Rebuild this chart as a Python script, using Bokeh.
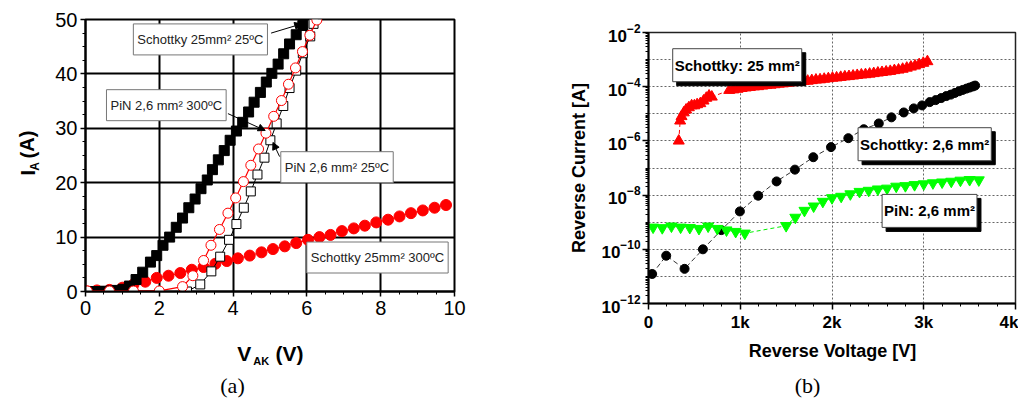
from bokeh.plotting import figure
from bokeh.models import Range1d, SingleIntervalTicker, FixedTicker, Label, Arrow, NormalHead
from bokeh.layouts import row, column
from bokeh.embed import file_html
from bokeh.resources import INLINE

# ---------------- (a) forward characteristics ----------------
sch25_25c_v = [0.2, 0.37, 0.53, 0.7, 0.86, 1.02, 1.19, 1.37, 1.55, 1.76, 1.93, 2.1, 2.28, 2.46,
               2.63, 2.8, 2.97, 3.13, 3.3, 3.44, 3.6, 3.76, 3.92, 4.09, 4.26, 4.42, 4.57, 4.74,
               4.9, 5.05, 5.22, 5.37, 5.53, 5.71, 5.89]
sch25_25c_i = [0.0, 0.0, 0.05, 0.1, 0.2, 0.4, 1.0, 2.2, 3.55, 5.4, 6.6, 8.5, 10.0, 11.8,
               13.5, 15.4, 17.0, 18.9, 20.5, 22.4, 24.2, 25.9, 27.8, 29.5, 31.1, 33.0, 34.8, 36.6,
               38.5, 40.1, 41.8, 43.7, 45.5, 47.2, 48.9]

sch25_300c_v = [0.05, 0.31, 0.65, 1.0, 1.3, 1.62, 1.93, 2.25, 2.57, 2.88, 3.2, 3.52, 3.83, 4.13,
                4.45, 4.77, 5.08, 5.4, 5.71, 6.03, 6.34, 6.64, 6.95, 7.27, 7.57, 7.88, 8.2, 8.51,
                8.82, 9.14, 9.46, 9.77]
sch25_300c_i = [0.0, 0.2, 0.3, 0.7, 1.3, 1.8, 2.5, 2.9, 3.4, 4.0, 4.5, 5.1, 5.6, 6.1,
                6.6, 7.2, 7.8, 8.3, 8.9, 9.5, 10.0, 10.4, 11.1, 11.6, 12.1, 12.7, 13.2, 13.8,
                14.4, 14.9, 15.4, 15.9]

pin_300c_v = [0.05, 0.65, 1.3, 2.0, 2.63, 2.91, 3.2, 3.4, 3.63, 3.86, 4.07, 4.28, 4.48, 4.69,
              4.89, 5.1, 5.31, 5.5, 5.69, 5.88, 6.08, 6.27]
pin_300c_i = [0.1, 0.1, 0.1, 0.1, 0.9, 2.9, 5.7, 8.5, 11.4, 14.4, 17.2, 20.2, 23.2, 26.2,
              29.1, 32.2, 35.1, 38.1, 41.1, 44.1, 47.1, 49.9]

pin_25c_v = [2.75, 3.11, 3.41, 3.65, 3.89, 4.09, 4.29, 4.48, 4.66, 4.85, 5.01, 5.18, 5.36, 5.53,
             5.71, 5.89, 6.09, 6.18]
pin_25c_i = [0.0, 1.3, 3.7, 6.4, 9.5, 12.4, 15.4, 18.4, 21.5, 24.6, 27.8, 30.9, 34.1, 37.4,
             40.6, 43.8, 46.9, 49.2]

labels_a = ["Schottky 25mm\u00b2 25\u00baC", "PiN 2,6 mm\u00b2 300\u00baC",
            "PiN 2,6 mm\u00b2 25\u00baC", "Schottky 25mm\u00b2 300\u00baC"]

# ---------------- (b) reverse characteristics ----------------
sch26_v = [40, 193, 393, 593, 793, 996, 1196, 1396, 1596, 1796, 1989, 2178, 2346, 2510, 2648,
           2782, 2891, 2982, 3065, 3130, 3190, 3245, 3295, 3340, 3385, 3425, 3465, 3500, 3535, 3560]
sch26_i = [1.23e-11, 5.8e-11, 1.9e-11, 1.0e-10, 5.1e-10, 2.5e-9, 9.5e-9, 3.2e-8, 8.7e-8, 2.5e-7,
           5.9e-7, 1.26e-6, 2.7e-6, 4.4e-6, 7.4e-6, 1.12e-5, 1.58e-5, 2.04e-5, 2.7e-5, 3.2e-5,
           3.8e-5, 4.5e-5, 5.1e-5, 5.9e-5, 6.8e-5, 7.6e-5, 8.5e-5, 9.3e-5, 1.02e-4, 1.1e-4]

sch25r_v = [330, 345, 360, 385, 410, 440, 470, 500, 530, 565, 600, 630, 660, 690,
            880, 925, 970, 1015, 1060, 1105, 1150, 1195, 1240, 1285, 1330, 1375, 1420, 1465,
            1510, 1555, 1600, 1645, 1690, 1735, 1780, 1825, 1870, 1915, 1960, 2005, 2050, 2095,
            2140, 2185, 2230, 2275, 2320, 2365, 2410, 2455, 2500, 2545, 2590, 2635, 2680, 2725,
            2770, 2815, 2860, 2905, 2950, 2995, 3040]
sch25r_i = [1.0e-6, 5.5e-6, 8.0e-6, 1.1e-5, 1.4e-5, 1.7e-5, 2.0e-5, 2.0e-5, 2.2e-5, 2.4e-5,
            3.0e-5, 3.8e-5, 4.6e-5, 4.2e-5,
            7.41e-5, 7.76e-5, 8.13e-5, 8.71e-5, 9.12e-5, 9.55e-5, 1.0e-4, 1.02e-4, 1.07e-4, 1.12e-4,
            1.15e-4, 1.20e-4, 1.26e-4, 1.29e-4, 1.35e-4, 1.41e-4, 1.45e-4, 1.51e-4, 1.58e-4, 1.62e-4,
            1.70e-4, 1.78e-4, 1.82e-4, 1.91e-4, 2.0e-4, 2.09e-4, 2.14e-4, 2.24e-4, 2.34e-4, 2.40e-4,
            2.51e-4, 2.63e-4, 2.75e-4, 2.82e-4, 2.95e-4, 3.09e-4, 3.24e-4, 3.39e-4, 3.55e-4, 3.72e-4,
            3.98e-4, 4.17e-4, 4.47e-4, 4.90e-4, 5.37e-4, 5.89e-4, 6.61e-4, 7.41e-4, 8.51e-4]

pin26_v = [50, 150, 250, 350, 450, 550, 650, 750, 850, 950, 1050, 1500, 1600, 1700, 1800, 1900,
           2000, 2100, 2200, 2300, 2400, 2500, 2600, 2700, 2800, 2900, 3000, 3100, 3200, 3300,
           3400, 3500, 3600]
pin26_i = [6.5e-10, 6.2e-10, 7.1e-10, 6.5e-10, 6.3e-10, 5.8e-10, 7.1e-10, 5.8e-10, 5.1e-10,
           4.5e-10, 3.9e-10, 7.4e-10, 1.5e-9, 2.7e-9, 3.9e-9, 5.8e-9, 7.9e-9, 8.9e-9, 1.1e-8,
           1.35e-8, 1.48e-8, 1.66e-8, 1.78e-8, 2.1e-8, 2.2e-8, 2.4e-8, 2.57e-8, 2.8e-8, 3.0e-8,
           3.2e-8, 3.5e-8, 3.7e-8, 3.6e-8]

labels_b = ["Schottky: 25 mm\u00b2", "Schottky: 2,6 mm\u00b2", "PiN: 2,6 mm\u00b2"]

x_ticks_b = [0, 1000, 2000, 3000, 4000]
x_tick_text_b = ["0", "1k", "2k", "3k", "4k"]

SANS = "Liberation Sans"
SERIF = "Liberation Serif"


def blank(w, h):
    f = figure(width=w, height=h, x_range=Range1d(0, w), y_range=Range1d(0, h),
               output_backend="svg", toolbar_location=None, min_border=0,
               x_axis_location=None, y_axis_location=None)
    f.outline_line_color = None
    f.grid.visible = False
    return f


def txt(f, x, y, text, size, bold=True, angle=0.0, align="left", baseline="alphabetic", font=SANS):
    f.add_layout(Label(x=x, y=y, text=text, angle=angle, text_font=font,
                       text_font_style="bold" if bold else "normal", text_font_size=size,
                       text_align=align, text_baseline=baseline, text_color="black"))


# =============== figure (a) ===============
pa = figure(width=464, height=328, x_range=Range1d(0, 10), y_range=Range1d(0, 50),
            output_backend="svg", toolbar_location=None,
            min_border_left=41, min_border_right=54, min_border_top=19, min_border_bottom=37)
pa.outline_line_color = "black"
pa.outline_line_width = 2
pa.xaxis.ticker = SingleIntervalTicker(interval=2, num_minor_ticks=4)
pa.yaxis.ticker = SingleIntervalTicker(interval=10, num_minor_ticks=4)
for ax in (pa.xaxis[0], pa.yaxis[0]):
    ax.axis_line_width = 2
    ax.axis_line_color = "black"
    ax.major_tick_line_width = 1.5
    ax.major_tick_line_color = "black"
    ax.minor_tick_line_color = "black"
    ax.major_tick_out = 5
    ax.major_tick_in = 0
    ax.minor_tick_out = 3
    ax.minor_tick_in = 0
    ax.major_label_text_font = SANS
    ax.major_label_text_font_size = "20px"
    ax.major_label_text_color = "black"
pa.xaxis.major_label_standoff = 4
pa.yaxis.major_label_standoff = 3
pa.grid.grid_line_color = "black"
pa.grid.grid_line_width = 2
pa.grid.grid_line_alpha = 1

pa.line(sch25_300c_v, sch25_300c_i, line_color="red", line_width=1)
pa.scatter(sch25_300c_v, sch25_300c_i, marker="circle", size=11, fill_color="red", line_color="red")
pa.line(sch25_25c_v, sch25_25c_i, line_color="black", line_width=1)
pa.scatter(sch25_25c_v, sch25_25c_i, marker="square", size=10, fill_color="black", line_color="black")
pa.line(pin_25c_v, pin_25c_i, line_color="black", line_width=1)
pa.scatter(pin_25c_v, pin_25c_i, marker="square", size=9, fill_color="white", line_color="black")
pa.line(pin_300c_v, pin_300c_i, line_color="red", line_width=1.2)
pa.scatter(pin_300c_v, pin_300c_i, marker="circle", size=10, fill_color="white", line_color="red")

box_pos_a = [(3.114, 46.34), (2.19, 34.25), (6.816, 22.85), (7.913, 6.25)]
for t, (bx, by) in zip(labels_a, box_pos_a):
    pa.add_layout(Label(x=bx, y=by, text=t, text_align="center", text_baseline="middle",
                        text_font=SANS, text_font_size="13px", text_color="#222",
                        background_fill_color="white", border_line_color="#777",
                        border_line_width=1, padding=(4, 8)))

arrows_a = [((5.03, 47.5), (5.86, 49.2)), ((3.86, 32.7), (4.87, 29.6)), ((5.26, 24.8), (5.08, 27.4))]
for (xs, ys), (xe, ye) in arrows_a:
    pa.add_layout(Arrow(x_start=xs, y_start=ys, x_end=xe, y_end=ye, line_width=1,
                        line_color="black",
                        end=NormalHead(size=7, fill_color="black", line_color="black")))

# y title of (a): I_A (A), rotated
ya = blank(44, 328)
txt(ya, 27, 140, "I", "20px", angle=1.5708)
txt(ya, 34, 145.6, "A", "12px", angle=1.5708)
txt(ya, 27, 160.5, "(A)", "20px", angle=1.5708)

# x title of (a): V_AK (V) and caption
xa = blank(508, 72)
txt(xa, 236.7, 47, "V", "21px")
txt(xa, 252.7, 40, "AK", "11px")
txt(xa, 275, 47, "(V)", "21px")
txt(xa, 232, 15, "(a)", "22px", bold=False, align="center", baseline="middle", font=SERIF)

# =============== figure (b) ===============
pb = figure(width=510, height=338, x_range=Range1d(0, 4000), y_range=Range1d(1e-12, 1e-2),
            y_axis_type="log", output_backend="svg", toolbar_location=None,
            min_border_left=140, min_border_right=3, min_border_top=32, min_border_bottom=35)
pb.outline_line_color = "#222"
pb.outline_line_width = 1.5

major_y = [1e-12, 1e-10, 1e-8, 1e-6, 1e-4, 1e-2]
decades = [10.0 ** (-k) for k in range(2, 13)]
minor_y = []
for k in range(3, 13):
    base = 10.0 ** (-k)
    minor_y.extend([m * base for m in range(2, 10)])
minor_y.extend([10.0 ** (-k) for k in (3, 5, 7, 9, 11)])
pb.yaxis.ticker = FixedTicker(ticks=major_y, minor_ticks=minor_y)
pb.ygrid.ticker = FixedTicker(ticks=decades[1:-1])
pb.xaxis.ticker = FixedTicker(ticks=x_ticks_b, minor_ticks=[v for v in range(200, 4000, 200) if v % 1000])
pb.xgrid.ticker = FixedTicker(ticks=x_ticks_b[1:-1])
pb.xaxis.major_label_overrides = dict(zip(x_ticks_b, x_tick_text_b))

for ax in (pb.xaxis[0], pb.yaxis[0]):
    ax.axis_line_width = 2
    ax.axis_line_color = "black"
    ax.major_tick_line_width = 1.5
    ax.major_tick_line_color = "black"
    ax.minor_tick_line_color = "black"
    ax.major_tick_out = 6
    ax.major_tick_in = 0
    ax.minor_tick_out = 3
    ax.minor_tick_in = 0
    ax.major_label_text_font = SANS
    ax.major_label_text_font_style = "bold"
    ax.major_label_text_font_size = "17px"
    ax.major_label_text_color = "black"
    ax.axis_label_text_font = SANS
    ax.axis_label_text_font_style = "bold"
    ax.axis_label_text_font_size = "18px"
    ax.axis_label_text_color = "black"
pb.xaxis.major_label_standoff = 3
pb.yaxis.major_label_standoff = 2
pb.yaxis.axis_label = "Reverse Current [A]"
pb.yaxis.axis_label_standoff = 9
pb.grid.grid_line_color = "#666"
pb.grid.grid_line_dash = "2 2"
pb.grid.grid_line_width = 1

pb.line(sch25r_v, sch25r_i, line_color="red", line_width=1, line_dash="4 3")
pb.scatter(sch25r_v, sch25r_i, marker="triangle", size=11, fill_color="red", line_color="red")
pb.line(sch26_v, sch26_i, line_color="#333", line_width=1, line_dash="5 3")
pb.scatter(sch26_v, sch26_i, marker="circle", size=9, fill_color="black", line_color="black")
pb.line(pin26_v, pin26_i, line_color="#00ee00", line_width=1, line_dash="4 3")
pb.scatter(pin26_v, pin26_i, marker="inverted_triangle", size=11, fill_color="#00ff00",
           line_color="#00ff00")

box_pos_b = [(967, 10 ** -3.207), (3010, 10 ** -6.122), (3063, 10 ** -8.583)]
for t, (bx, by) in zip(labels_b, box_pos_b):
    pb.add_layout(Label(x=bx, y=by, text=t, text_align="center", text_baseline="middle",
                        text_font=SANS, text_font_style="bold", text_font_size="15px",
                        text_color="black", background_fill_color="black",
                        border_line_color="black", padding=(2, 8), x_offset=4, y_offset=-4))
    pb.add_layout(Label(x=bx, y=by, text=t, text_align="center", text_baseline="middle",
                        text_font=SANS, text_font_style="bold", text_font_size="15px",
                        text_color="black", background_fill_color="white",
                        border_line_color="#444", border_line_width=1, padding=(2, 8)))

# x title of (b) and caption
xb = blank(510, 62)
txt(xb, 324, 50, "Reverse Voltage [V]", "18px", align="center", baseline="middle")
txt(xb, 299, 15, "(b)", "22px", bold=False, align="center", baseline="middle", font=SERIF)

layout = row(column(row(ya, pa), xa), column(row(pb), xb))
open("out.html", "w").write(file_html(layout, INLINE))
